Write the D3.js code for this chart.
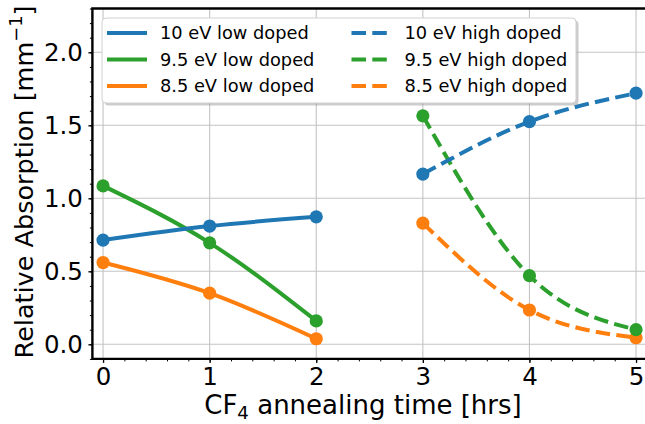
<!DOCTYPE html>
<html>
<head>
<meta charset="utf-8">
<script src="https://cdn.jsdelivr.net/npm/d3@7"></script>
<style>
    body { margin: 0; background: white; }
    text { font-family: "DejaVu Sans", sans-serif; }
</style>
</head>
<body>
<div id="svgcontainer"></div>
<script>
const CONSTANTS = {
    WIDTH: 645,
    HEIGHT: 424,
    LEFT: 92.4,
    RIGHT: 646.7,
    TOP: 8.5,
    BOTTOM: 358.9,
    LW: 4,
    DASH: "14.5,6.3",
}

// annealing hours
const hoursLow = [0, 1, 2];
const hoursHigh = [3, 4, 5];

// relative absorption [mm^-1]
const ev10Low = [0.714, 0.81, 0.873];
const ev95Low = [1.085, 0.695, 0.16];
const ev85Low = [0.56, 0.35, 0.038];
const ev10High = [1.166, 1.525, 1.72];
const ev95High = [1.565, 0.47, 0.10];
const ev85High = [0.83, 0.235, 0.045];

const xTicks = [0, 1, 2, 3, 4, 5];
const yTicks = [0.0, 0.5, 1.0, 1.5, 2.0];

const BLUE = "#1f77b4", ORANGE = "#ff7f0e", GREEN = "#2ca02c";

// legend order (column-wise)
const series = [
    { name: "10 eV low doped", x: hoursLow, y: ev10Low, color: BLUE, dashed: false },
    { name: "9.5 eV low doped", x: hoursLow, y: ev95Low, color: GREEN, dashed: false },
    { name: "8.5 eV low doped", x: hoursLow, y: ev85Low, color: ORANGE, dashed: false },
    { name: "10 eV high doped", x: hoursHigh, y: ev10High, color: BLUE, dashed: true },
    { name: "9.5 eV high doped", x: hoursHigh, y: ev95High, color: GREEN, dashed: true },
    { name: "8.5 eV high doped", x: hoursHigh, y: ev85High, color: ORANGE, dashed: true },
];

const svg = d3.select("#svgcontainer")
    .append("svg")
    .attr("width", CONSTANTS.WIDTH)
    .attr("height", CONSTANTS.HEIGHT)

const x = d3.scaleLinear().domain([-0.1, 5.1]).range([CONSTANTS.LEFT, CONSTANTS.RIGHT]);
const y = d3.scaleLinear().domain([-0.1, 2.3]).range([CONSTANTS.BOTTOM, CONSTANTS.TOP]);

// grid
svg.append("g")
    .selectAll("line")
    .data(xTicks)
    .join("line")
    .attr("x1", d => x(d)).attr("x2", d => x(d))
    .attr("y1", CONSTANTS.TOP).attr("y2", CONSTANTS.BOTTOM)
    .attr("stroke", "#c4c4c4")
    .attr("stroke-width", 1.1)

svg.append("g")
    .selectAll("line")
    .data(yTicks)
    .join("line")
    .attr("x1", CONSTANTS.LEFT).attr("x2", CONSTANTS.RIGHT)
    .attr("y1", d => y(d)).attr("y2", d => y(d))
    .attr("stroke", "#c4c4c4")
    .attr("stroke-width", 1.1)

// minor ticks
svg.append("g")
    .attr("transform", `translate(0,${CONSTANTS.BOTTOM})`)
    .call(d3.axisBottom(x).tickValues(d3.range(0, 5.05, 0.2)).tickSize(2.5).tickFormat(""))
    .call(g => g.select(".domain").remove())
    .call(g => g.selectAll("line").attr("stroke-width", 1))

svg.append("g")
    .attr("transform", `translate(${CONSTANTS.LEFT},0)`)
    .call(d3.axisLeft(y).tickValues(d3.range(-0.1, 2.35, 0.1)).tickSize(2.5).tickFormat(""))
    .call(g => g.select(".domain").remove())
    .call(g => g.selectAll("line").attr("stroke-width", 1))

// major ticks
svg.append("g")
    .attr("transform", `translate(0,${CONSTANTS.BOTTOM})`)
    .call(d3.axisBottom(x).tickValues(xTicks).tickSize(4).tickPadding(5).tickFormat(d3.format("d")))
    .call(g => g.select(".domain").remove())
    .call(g => g.selectAll("line").attr("stroke-width", 1.3))
    .call(g => g.selectAll("text")
        .attr("font-family", "DejaVu Sans")
        .attr("font-size", 24.5)
        .attr("fill", "black"))

svg.append("g")
    .attr("transform", `translate(${CONSTANTS.LEFT},0)`)
    .call(d3.axisLeft(y).tickValues(yTicks).tickSize(4).tickPadding(5.5).tickFormat(d3.format(".1f")))
    .call(g => g.select(".domain").remove())
    .call(g => g.selectAll("line").attr("stroke-width", 1.3))
    .call(g => g.selectAll("text")
        .attr("font-family", "DejaVu Sans")
        .attr("font-size", 24.5)
        .attr("fill", "black"))

// curves and markers, drawn orange -> green -> blue
const line = d3.line()
    .x(d => x(d[0]))
    .y(d => y(d[1]))
    .curve(d3.curveMonotoneX)

const drawOrder = [2, 5, 1, 4, 0, 3];
const plot = svg.append("g");

drawOrder.forEach(i => {
    const s = series[i];
    const pts = s.x.map((v, j) => [v, s.y[j]]);

    plot.append("path")
        .datum(pts)
        .attr("d", line)
        .attr("fill", "none")
        .attr("stroke", s.color)
        .attr("stroke-width", CONSTANTS.LW)
        .attr("stroke-dasharray", s.dashed ? CONSTANTS.DASH : null)

    plot.append("g")
        .selectAll("circle")
        .data(pts)
        .join("circle")
        .attr("cx", d => x(d[0]))
        .attr("cy", d => y(d[1]))
        .attr("r", 6.6)
        .attr("fill", s.color)
});

// spines
svg.append("path")
    .attr("d", `M${CONSTANTS.LEFT},${CONSTANTS.TOP}V${CONSTANTS.BOTTOM}H${CONSTANTS.RIGHT}V${CONSTANTS.TOP}Z`)
    .attr("fill", "none")
    .attr("stroke", "black")
    .attr("stroke-width", 2.4)

// legend
const legend = svg.append("g");

legend.append("rect")
    .attr("x", 104.5).attr("y", 20.5)
    .attr("width", 474).attr("height", 85)
    .attr("rx", 4)
    .attr("fill", "#999")
    .attr("fill-opacity", 0.5)

legend.append("rect")
    .attr("x", 102).attr("y", 18)
    .attr("width", 474).attr("height", 85)
    .attr("rx", 4)
    .attr("fill", "white")
    .attr("stroke", "#d0d0d0")
    .attr("stroke-width", 1)

const rowY = [33, 59.5, 86];
const colX = [107, 351.5];

series.forEach((s, i) => {
    const col = Math.floor(i / 3), row = i % 3;
    const x0 = colX[col];

    legend.append("line")
        .attr("x1", x0).attr("x2", x0 + 40)
        .attr("y1", rowY[row]).attr("y2", rowY[row])
        .attr("stroke", s.color)
        .attr("stroke-width", CONSTANTS.LW)
        .attr("stroke-dasharray", s.dashed ? CONSTANTS.DASH : null)

    legend.append("text")
        .attr("x", x0 + 53)
        .attr("y", rowY[row] + 6.4)
        .attr("font-size", 17.8)
        .attr("fill", "black")
        .text(s.name)
});

// axis labels
const xlab = svg.append("text")
    .attr("x", 363)
    .attr("y", 414)
    .attr("text-anchor", "middle")
    .attr("font-size", 26)
    .attr("fill", "black")

xlab.append("tspan").text("CF")
xlab.append("tspan").attr("font-size", 18.2).attr("dy", 5).text("4")
xlab.append("tspan").attr("dy", -5).text(" annealing time [hrs]")

const ylab = svg.append("text")
    .attr("transform", "translate(33,182) rotate(-90)")
    .attr("text-anchor", "middle")
    .attr("font-size", 25.5)
    .attr("fill", "black")

ylab.append("tspan").text("Relative Absorption [mm")
ylab.append("tspan").attr("font-size", 17.8).attr("dy", -11).text("\u22121")
ylab.append("tspan").attr("dy", 11).text("]")
</script>
</body>
</html>
